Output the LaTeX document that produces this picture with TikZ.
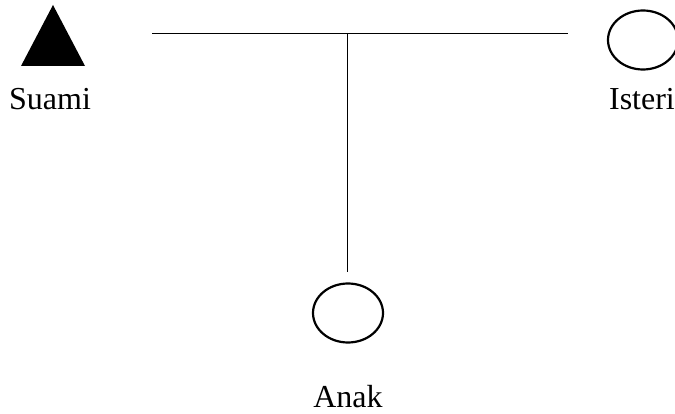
\documentclass[tikz,border=0pt]{standalone}
\usepackage{fontspec}
\setmainfont{Liberation Serif}
\usetikzlibrary{shapes.geometric}
\tikzset{%
		garis/.style={draw,line width=1pt},
		wanita/.style={draw,ellipse,line width=2.2pt,minimum width=70pt,minimum height=59pt,inner sep=0pt},
		label/.style={anchor=base,inner sep=0pt,font=\fontsize{32}{38}\selectfont}
	}

\begin{document}
\begin{tikzpicture}[x=1pt,y=-1pt]
      \useasboundingbox (0,0) rectangle (675,414) ;
      % suami
      \fill (21,66) -- (53,5) -- (85,66) -- cycle ;
      \coordinate (suami) at (53,36) ;
      \node[label] (tsuami) at (50,110) {Suami} ;
      % isteri
      \node[wanita] (isteri) at (643,40) {} ;
      \node[label] (tisteri) at (642,110) {Isteri} ;
      % anak
      \node[wanita] (anak) at (348,313) {} ;
      \node[label] (tanak) at (348,407) {Anak} ;
      % garis
      \coordinate (kiri) at (152,34) ;
      \coordinate (kanan) at (568,34) ;
      \coordinate (tengah) at (347,34) ;
      \coordinate (bawah) at (347,272) ;
      \draw[garis] (kiri) -- (kanan) ;
      \draw[garis] (tengah) -- (bawah) ;
\end{tikzpicture}
\end{document}
